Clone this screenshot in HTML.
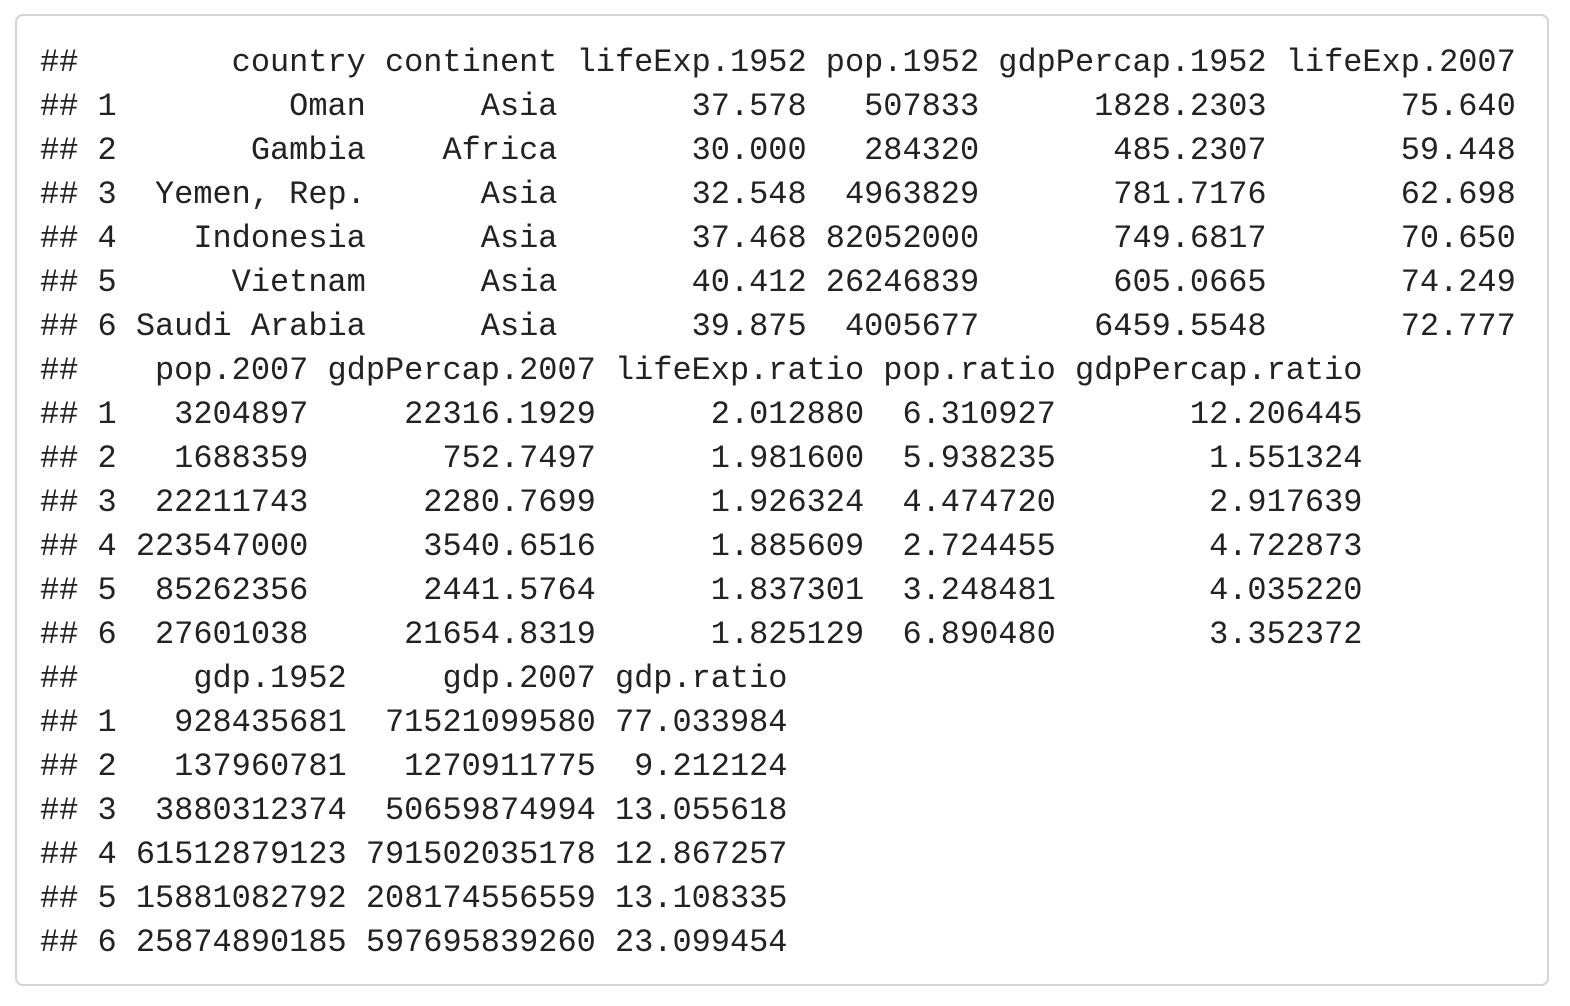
<!DOCTYPE html>
<html>
<head>
<meta charset="utf-8">
<style>
  html, body { margin: 0; padding: 0; background: #ffffff; }
  body { width: 1570px; height: 1006px; position: relative; overflow: hidden; }
  .box {
    position: absolute; left: 15px; top: 14px; width: 1534px; height: 972px;
    border: 2px solid #d4d4d4; border-radius: 8px; background: #fff; box-sizing: border-box;
  }
  pre {
    position: absolute; left: 40px; top: 41px; margin: 0;
    font-family: "Liberation Mono", "DejaVu Sans Mono", monospace;
    font-size: 31.95px; line-height: 44px; color: #222;
    white-space: pre;
  }
</style>
</head>
<body>
<div class="box"></div>
<pre>##        country continent lifeExp.1952 pop.1952 gdpPercap.1952 lifeExp.2007
## 1         Oman      Asia       37.578   507833      1828.2303       75.640
## 2       Gambia    Africa       30.000   284320       485.2307       59.448
## 3  Yemen, Rep.      Asia       32.548  4963829       781.7176       62.698
## 4    Indonesia      Asia       37.468 82052000       749.6817       70.650
## 5      Vietnam      Asia       40.412 26246839       605.0665       74.249
## 6 Saudi Arabia      Asia       39.875  4005677      6459.5548       72.777
##    pop.2007 gdpPercap.2007 lifeExp.ratio pop.ratio gdpPercap.ratio
## 1   3204897     22316.1929      2.012880  6.310927       12.206445
## 2   1688359       752.7497      1.981600  5.938235        1.551324
## 3  22211743      2280.7699      1.926324  4.474720        2.917639
## 4 223547000      3540.6516      1.885609  2.724455        4.722873
## 5  85262356      2441.5764      1.837301  3.248481        4.035220
## 6  27601038     21654.8319      1.825129  6.890480        3.352372
##      gdp.1952     gdp.2007 gdp.ratio
## 1   928435681  71521099580 77.033984
## 2   137960781   1270911775  9.212124
## 3  3880312374  50659874994 13.055618
## 4 61512879123 791502035178 12.867257
## 5 15881082792 208174556559 13.108335
## 6 25874890185 597695839260 23.099454</pre>
</body>
</html>
